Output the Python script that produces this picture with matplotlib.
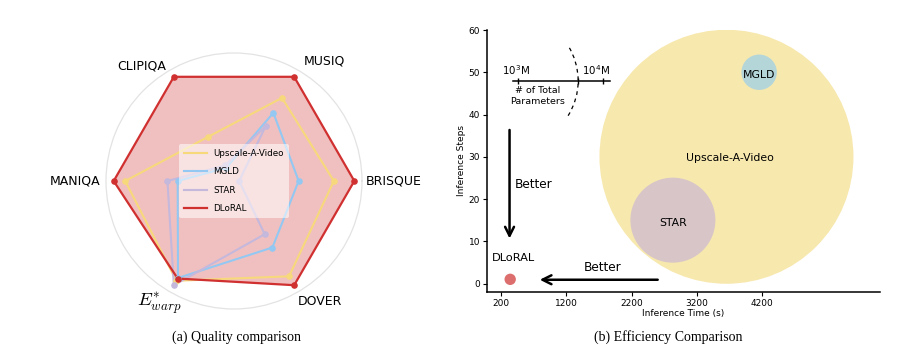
import matplotlib.pyplot as plt
import matplotlib.patches as mpatches
import matplotlib.transforms as mtransforms
import numpy as np

# ---------------------------------------------------------------- radar data
METRICS = ['BRISQUE', 'MUSIQ', 'CLIPIQA', 'MANIQA', r'$E^{*}_{warp}$', 'DOVER']
ANGLES_DEG = [0, 60, 120, 180, 240, 300]
METHODS = ['Upscale-A-Video', 'MGLD', 'STAR', 'DLoRAL']
UAV_SCORES = [0.78, 0.75, 0.40, 0.85, 0.90, 0.86]
MGLD_SCORES = [0.505, 0.615, 0.12, 0.44, 0.875, 0.60]
STAR_SCORES = [0.04, 0.495, 0.14, 0.52, 0.94, 0.48]
DLORAL_SCORES = [0.94, 0.94, 0.94, 0.94, 0.88, 0.94]
RADAR_COLORS = ['#f7d97c', '#93c8f2', '#c4b8dc', '#d03030']

# ---------------------------------------------------------------- bubble data
BUBBLE_NAMES = ['Upscale-A-Video', 'MGLD', 'STAR', 'DLoRAL']
INF_TIME = [3650, 4150, 2830, 340]
INF_STEPS = [30, 50, 15, 1]
BUBBLE_SIZE = [33450, 650, 3745, 67]
BUBBLE_COLORS = ['#f7e8ae', '#b5d6d9', '#d8c5c8', '#dc6e6e']
XTICKS = [200, 1200, 2200, 3200, 4200]
YTICKS = [0, 10, 20, 30, 40, 50, 60]

fig = plt.figure(figsize=(9.23, 3.53), dpi=100)

# ---------------------------------------------------------------- (a) radar
ax1 = fig.add_axes([106 / 923, 44 / 353, 256 / 923, 256 / 353], projection='polar')
theta = np.deg2rad(ANGLES_DEG + [ANGLES_DEG[0]])
all_scores = [UAV_SCORES, MGLD_SCORES, STAR_SCORES, DLORAL_SCORES]

for name, vals, col in zip(METHODS, all_scores, RADAR_COLORS):
    v = vals + [vals[0]]
    lw = 1.6 if name == 'DLoRAL' else 1.5
    ax1.plot(theta, v, color=col, lw=lw, label=name, zorder=3)
    ax1.scatter(theta[:-1], vals, color=col, s=14, zorder=4)
    if name == 'DLoRAL':
        ax1.fill(theta, v, color=col, alpha=0.3, lw=0, zorder=2)

ax1.set_ylim(0, 1)
ax1.set_yticks([])
ax1.set_xticks([])
ax1.grid(False)
ax1.spines['polar'].set_color('#e3e3e3')
ax1.spines['polar'].set_linewidth(0.9)

label_pos = [(0, 1.25), (53, 1.17), (128.7, 1.15), (180, 1.24), (238.4, 1.12), (305.6, 1.16)]
for lab, (ang, r) in zip(METRICS, label_pos):
    if lab.startswith('$'):
        ax1.text(np.deg2rad(ang), r, lab, ha='center', va='center', fontsize=13.5,
                 math_fontfamily='cm', clip_on=False)
    else:
        ax1.text(np.deg2rad(ang), r, lab, ha='center', va='center', fontsize=9, clip_on=False)

leg = ax1.legend(loc='center', fontsize=6.3, frameon=True, handlelength=2.6,
                 labelspacing=1.05, borderpad=0.6, handletextpad=0.7)
leg.get_frame().set_facecolor('white')
leg.get_frame().set_alpha(0.55)
leg.get_frame().set_edgecolor('none')

fig.text(236 / 923, 1 - 337 / 353, '(a) Quality comparison', ha='center', va='center',
         fontsize=10, family='Liberation Serif')

# ---------------------------------------------------------------- (b) bubbles
ax2 = fig.add_axes([487 / 923, 61 / 353, 393 / 923, 262 / 353])
ax2.scatter(INF_TIME, INF_STEPS, s=BUBBLE_SIZE, c=BUBBLE_COLORS, edgecolors='none', zorder=2)
for name, x, y in zip(BUBBLE_NAMES, INF_TIME, INF_STEPS):
    if name == 'DLoRAL':
        ax2.text(x + 50, y + 5, name, ha='center', va='center', fontsize=8.2)
    elif name == 'Upscale-A-Video':
        ax2.text(x + 50, y - 0.3, name, ha='center', va='center', fontsize=7.8)
    else:
        ax2.text(x, y - 0.6, name, ha='center', va='center', fontsize=7.8)

ax2.set_xlim(-15, 6000)
ax2.set_ylim(-2, 60)
ax2.set_xticks(XTICKS)
ax2.set_yticks(YTICKS)
ax2.tick_params(labelsize=6.5, length=3, width=0.8, pad=2)
ax2.set_xlabel('Inference Time (s)', fontsize=6.5, labelpad=1)
ax2.set_ylabel('Inference Steps', fontsize=6.5, labelpad=2)
for s in ['top', 'right']:
    ax2.spines[s].set_visible(False)
for s in ['left', 'bottom']:
    ax2.spines[s].set_linewidth(1.1)

# "Better" arrows
ax2.annotate('', xy=(330, 10), xytext=(330, 37),
             arrowprops=dict(arrowstyle='->', lw=1.8, color='black', mutation_scale=16))
ax2.text(700, 23.4, 'Better', ha='center', va='center', fontsize=8.7)
ax2.annotate('', xy=(750, 0.9), xytext=(2640, 0.9),
             arrowprops=dict(arrowstyle='->', lw=1.8, color='black', mutation_scale=16))
ax2.text(1760, 3.8, 'Better', ha='center', va='center', fontsize=8.7)

# parameter-size key
ax2.plot([378, 1864], [48, 48], color='black', lw=1.1)
ax2.plot([460, 1374, 1757], [48, 48, 48], ls='none', marker='|', ms=5, mew=1, color='black')
ax2.text(435, 50.4, r'10$^3$M', ha='center', va='center', fontsize=7.4,
         math_fontfamily='dejavusans')
ax2.text(1655, 50.4, r'10$^4$M', ha='center', va='center', fontsize=7.4,
         math_fontfamily='dejavusans')
ax2.text(760, 44.3, '# of Total\nParameters', ha='center', va='center', fontsize=6.8,
         linespacing=1.25)
arc_trans = mtransforms.ScaledTranslation(370, 48, ax2.transData)
ax2.add_patch(mpatches.Arc((0, 0), 132, 132, theta1=-32, theta2=32, transform=arc_trans,
                           ls=(0, (3, 3)), lw=0.9, color='black'))

fig.text(668 / 923, 1 - 337 / 353, '(b) Efficiency Comparison', ha='center', va='center',
         fontsize=10, family='Liberation Serif')

fig.savefig('out.png', dpi=100)
